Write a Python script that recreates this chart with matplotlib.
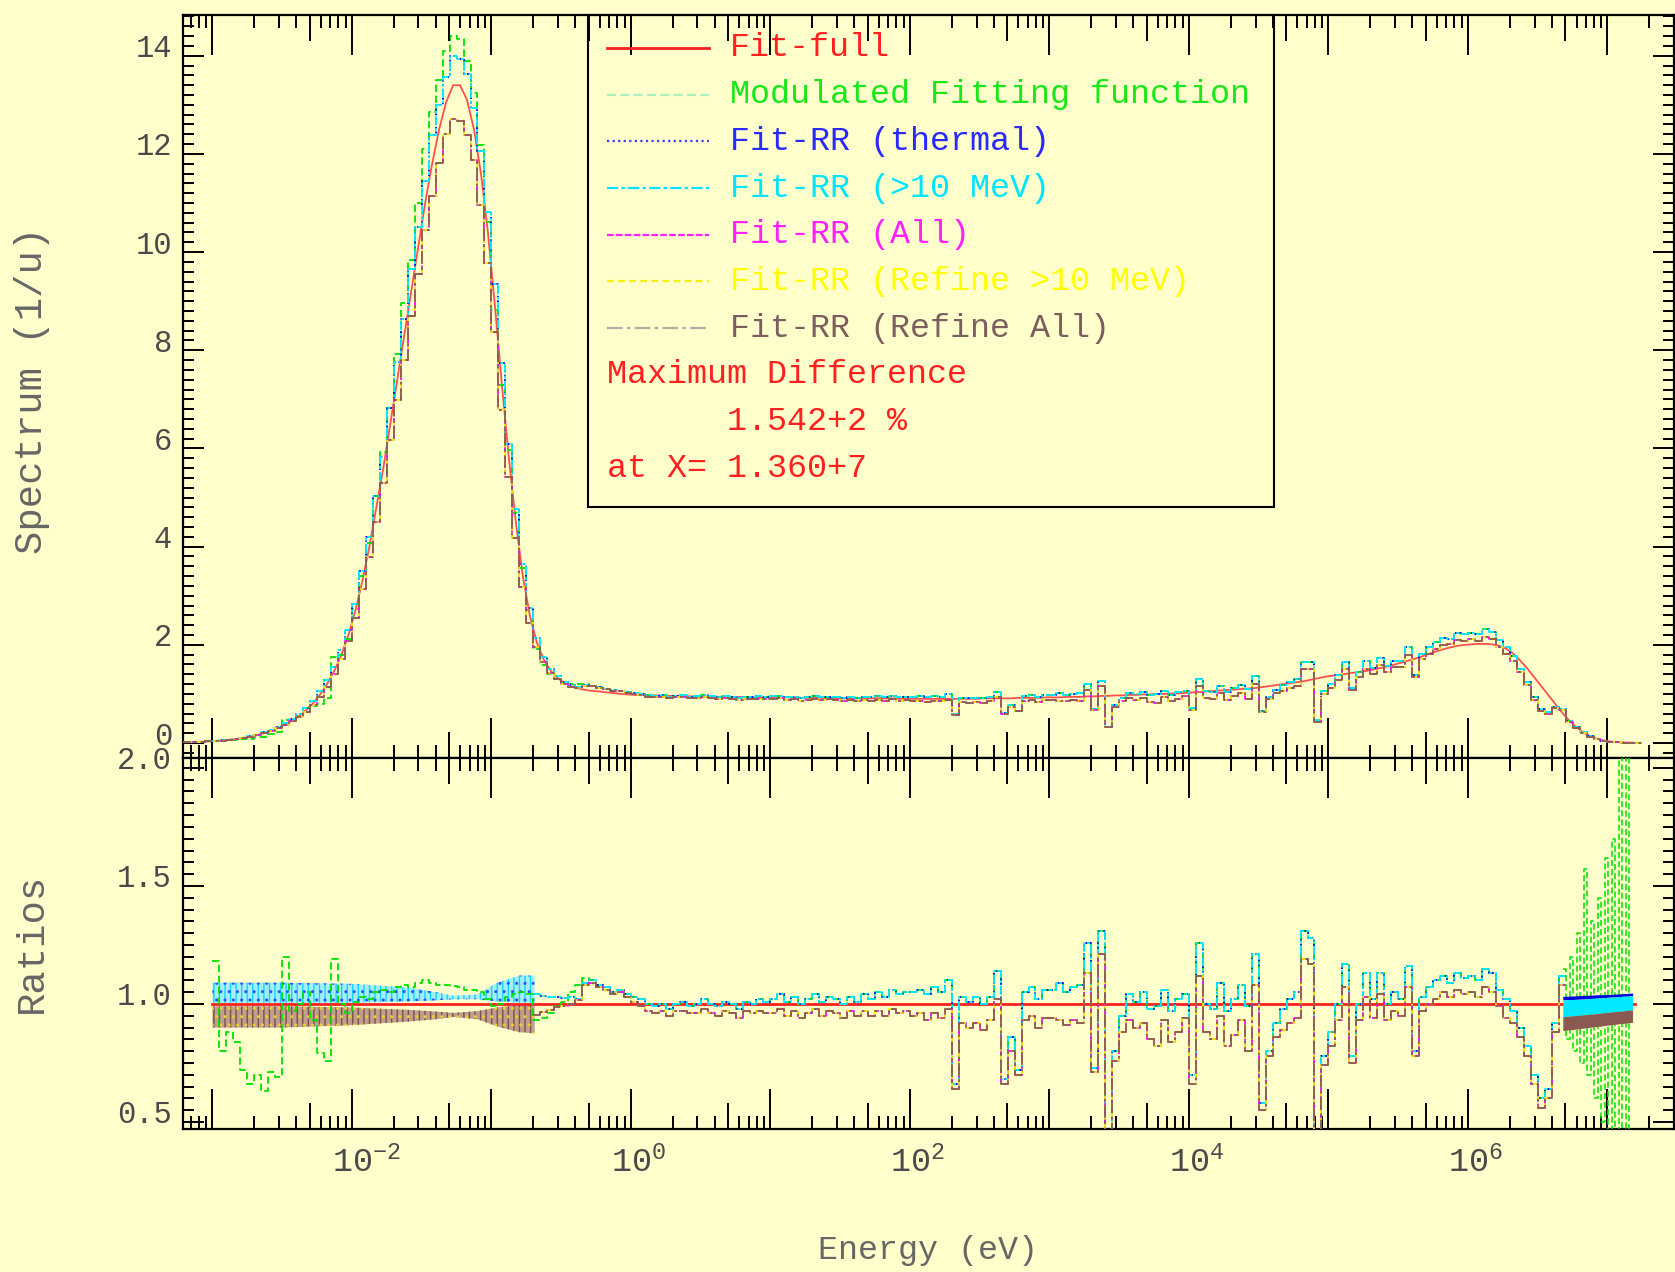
import numpy as np
import matplotlib.pyplot as plt
from matplotlib.patches import Rectangle
from matplotlib.ticker import (LogLocator, MultipleLocator, FuncFormatter,
                               FormatStrFormatter, NullLocator, NullFormatter)
from matplotlib.transforms import ScaledTranslation

plt.rcParams['font.family'] = ['Liberation Mono', 'DejaVu Sans Mono']
plt.rcParams['mathtext.fontset'] = 'custom'
plt.rcParams['mathtext.rm'] = 'Liberation Mono'
plt.rcParams['mathtext.it'] = 'Liberation Mono'
plt.rcParams['hatch.linewidth'] = 1.0

############   DATA   ####################################
# group structure: 20 groups per decade, first edge at 10^-3.25 eV
first_edge_log = -3.25
groups_per_decade = 20

# Fit-full spectrum (1/u), one value per group, one row per decade
fit_full = np.array([
    0.012, 0.016, 0.021, 0.027, 0.034,
    0.043, 0.054, 0.068, 0.085, 0.106, 0.132, 0.165, 0.205, 0.255, 0.315,
    0.385, 0.465, 0.56, 0.68, 0.82, 1.0, 1.22, 1.48, 1.8, 2.2,
    2.7, 3.3, 4.0, 4.8, 5.6, 6.5, 7.4, 8.3, 9.2, 10.1,
    11.0, 11.8, 12.5, 13.05, 13.4, 13.4, 13.1, 12.5, 11.6, 10.4,
    8.9, 7.3, 5.8, 4.5, 3.4, 2.6, 2.05, 1.7, 1.47, 1.32,
    1.22, 1.15, 1.11, 1.08, 1.06, 1.05, 1.03, 1.02, 1.0, 0.99,
    0.98, 0.98, 0.97, 0.97, 0.97, 0.96, 0.96, 0.96, 0.95, 0.95,
    0.95, 0.95, 0.94, 0.94, 0.94, 0.94, 0.93, 0.93, 0.93, 0.93,
    0.93, 0.93, 0.93, 0.92, 0.92, 0.92, 0.92, 0.92, 0.92, 0.91,
    0.91, 0.91, 0.91, 0.91, 0.91, 0.91, 0.91, 0.91, 0.90, 0.90,
    0.90, 0.90, 0.90, 0.90, 0.90, 0.90, 0.90, 0.90, 0.90, 0.90,
    0.91, 0.91, 0.91, 0.91, 0.91, 0.92, 0.92, 0.92, 0.92, 0.93,
    0.93, 0.93, 0.94, 0.94, 0.94, 0.95, 0.95, 0.96, 0.96, 0.97,
    0.97, 0.98, 0.98, 0.99, 0.99, 1.0, 1.0, 1.01, 1.01, 1.02,
    1.03, 1.04, 1.05, 1.06, 1.07, 1.08, 1.09, 1.10, 1.11, 1.12,
    1.14, 1.16, 1.18, 1.20, 1.22, 1.24, 1.26, 1.29, 1.32, 1.35,
    1.37, 1.39, 1.41, 1.43, 1.45, 1.47, 1.50, 1.53, 1.56, 1.60,
    1.64, 1.68, 1.72, 1.77, 1.82, 1.87, 1.91, 1.95, 1.98, 2.00,
    2.01, 2.02, 2.02, 2.01, 1.98, 1.92, 1.82, 1.68, 1.52, 1.34,
    1.16, 0.98, 0.80, 0.62, 0.46, 0.33, 0.22, 0.14, 0.085, 0.05,
    0.03, 0.018, 0.01, 0.006, 0.004,
])

# ratio to Fit-full of Fit-RR (thermal) / Fit-RR (>10 MeV)
ratio_rr_high = np.array([
    1.05, 1.05, 1.05, 1.05, 1.05,
    1.05, 1.06, 1.04, 1.05, 1.06, 1.05, 1.04, 1.06, 1.05, 1.05,
    1.04, 1.06, 1.05, 1.04, 1.05, 1.06, 1.05, 1.04, 1.05, 1.05,
    1.05, 1.06, 1.05, 1.05, 1.04, 1.05, 1.05, 1.04, 1.05, 1.04,
    1.04, 1.05, 1.04, 1.04, 1.045, 1.04, 1.04, 1.035, 1.04, 1.04,
    1.05, 1.06, 1.05, 1.06, 1.07, 1.06, 1.04, 1.035, 1.03, 1.03,
    1.025, 1.03, 1.02, 1.09, 1.10, 1.08, 1.07, 1.05, 1.06, 1.04,
    1.03, 1.02, 1.0, 0.99, 1.0, 0.98, 1.0, 1.01, 0.99, 1.0,
    1.02, 1.0, 0.99, 1.01, 1.0, 0.98, 1.01, 1.0, 1.02, 1.01,
    1.02, 1.04, 1.01, 1.03, 1.0, 1.02, 1.04, 1.01, 1.03, 1.02,
    1.0, 1.03, 1.01, 1.04, 1.02, 1.05, 1.03, 1.06, 1.04, 1.05,
    1.05, 1.06, 1.04, 1.07, 1.05, 1.10, 0.66, 1.03, 1.01, 1.03,
    1.0, 1.03, 1.14, 0.68, 0.86, 0.72, 1.05, 1.07, 1.02, 1.06,
    1.06, 1.09, 1.05, 1.07, 1.08, 1.26, 0.73, 1.31, 0.35, 0.80,
    0.95, 1.04, 1.01, 1.05, 0.98, 0.99, 1.06, 0.97, 1.02, 1.04,
    0.70, 1.26, 1.0, 0.98, 1.09, 0.97, 1.02, 1.08, 0.99, 1.21,
    0.58, 0.80, 0.92, 0.98, 1.02, 1.05, 1.31, 1.28, 0.35, 0.78,
    0.88, 1.0, 1.17, 0.78, 1.0, 1.13, 1.02, 1.13, 1.0, 1.05,
    1.02, 1.16, 0.80, 1.03, 1.07, 1.10, 1.12, 1.09, 1.13, 1.11,
    1.12, 1.10, 1.15, 1.13, 1.06, 1.02, 0.97, 0.90, 0.82, 0.70,
    0.60, 0.64, 0.92, 1.12, 0.99, 0.99, 0.99, 0.995, 1.0, 1.0,
    1.005, 1.01, 1.01, 1.015, 1.0,
])

# ratio to Fit-full of Fit-RR (All) / (Refine >10 MeV) / (Refine All)
ratio_rr_low = np.array([
    0.945, 0.945, 0.945, 0.945, 0.945,
    0.945, 0.95, 0.94, 0.945, 0.95, 0.94, 0.945, 0.95, 0.945, 0.94,
    0.945, 0.95, 0.945, 0.94, 0.95, 0.945, 0.94, 0.945, 0.95, 0.945,
    0.945, 0.95, 0.945, 0.94, 0.945, 0.95, 0.945, 0.94, 0.945, 0.945,
    0.95, 0.945, 0.945, 0.95, 0.948, 0.945, 0.945, 0.95, 0.945, 0.94,
    0.94, 0.93, 0.935, 0.93, 0.935, 0.94, 0.955, 0.965, 0.975, 0.985,
    0.99, 1.0, 1.015, 1.08, 1.09, 1.07, 1.06, 1.04, 1.05, 1.03,
    1.01, 0.99, 0.97, 0.96, 0.97, 0.95, 0.97, 0.97, 0.96, 0.96,
    0.98, 0.96, 0.95, 0.97, 0.96, 0.94, 0.97, 0.96, 0.97, 0.96,
    0.96, 0.98, 0.95, 0.97, 0.94, 0.96, 0.98, 0.95, 0.97, 0.96,
    0.94, 0.97, 0.95, 0.97, 0.95, 0.97, 0.95, 0.98, 0.96, 0.97,
    0.95, 0.96, 0.93, 0.96, 0.94, 0.98, 0.64, 0.92, 0.90, 0.92,
    0.89, 0.93, 1.02, 0.66, 0.80, 0.70, 0.93, 0.95, 0.90, 0.94,
    0.94, 0.93, 0.91, 0.93, 0.92, 1.13, 0.71, 1.21, 0.33, 0.76,
    0.88, 0.93, 0.90, 0.92, 0.85, 0.82, 0.93, 0.84, 0.88, 0.94,
    0.66, 1.12, 0.88, 0.85, 0.95, 0.82, 0.87, 0.93, 0.80, 1.08,
    0.55, 0.78, 0.86, 0.89, 0.92, 0.94, 1.19, 1.17, 0.33, 0.74,
    0.82, 0.93, 1.07, 0.75, 0.93, 1.03, 0.94, 1.04, 0.93, 0.97,
    0.95, 1.07, 0.78, 0.97, 1.0, 1.02, 1.05, 1.03, 1.06, 1.04,
    1.05, 1.03, 1.07, 1.05, 0.99, 0.94, 0.92, 0.86, 0.78, 0.66,
    0.56, 0.60, 0.88, 1.08, 0.92, 0.92, 0.925, 0.93, 0.935, 0.94,
    0.945, 0.95, 0.955, 0.96, 0.96,
])

# Modulated Fitting function ratio below 1 eV; above it follows Fit-RR (thermal)
ratio_modulated_low_e = np.array([
    1.0, 1.0, 1.0, 1.0, 1.0,
    1.18, 0.80, 0.88, 0.84, 0.72, 0.66, 0.70, 0.63, 0.71, 0.69,
    1.20, 0.97, 1.0, 1.05, 0.93, 0.79, 0.76, 1.19, 1.0, 0.96,
    1.01, 1.03, 1.02, 1.05, 1.06, 1.05, 1.07, 1.08, 1.07, 1.09,
    1.10, 1.09, 1.08, 1.08, 1.075, 1.07, 1.06, 1.06, 1.05, 1.02,
    0.99, 1.0, 1.03, 1.04, 1.05, 1.04, 0.93, 0.94, 0.96, 0.99,
    1.01, 1.05, 1.08, 1.11, 1.10, 1.08, 1.07, 1.05, 1.06, 1.04,
])
ratio_modulated = np.concatenate([ratio_modulated_low_e,
                                  ratio_rr_high[len(ratio_modulated_low_e):]])

# Modulated Fitting function ratio above 4.8 MeV (finer groups, 40 per decade)
tail_first_edge_log = 6.68
tail_groups_per_decade = 40
ratio_modulated_tail = np.array([
    1.15, 0.85, 1.2, 0.8, 1.3, 0.75, 1.57, 0.7, 1.35, 0.6,
    1.45, 0.5, 1.62, 0.4, 1.7, 0.35, 2.1, 0.3, 2.3, 0.4,
])

# envelopes of the rapidly oscillating ratios (thermal range)
band_thermal_log_e = [-3.0, -2.5, -2.0, -1.6, -1.4, -1.27, -1.1, -0.96, -0.8, -0.69]
band_thermal_high_top = [1.09, 1.09, 1.085, 1.07, 1.05, 1.035, 1.04, 1.09, 1.12, 1.12]
band_thermal_high_bot = [1.005, 1.005, 1.005, 1.01, 1.015, 1.02, 1.02, 1.01, 1.005, 1.005]
band_thermal_low_top = [0.99, 0.99, 0.985, 0.975, 0.968, 0.962, 0.97, 0.985, 0.995, 0.995]
band_thermal_low_bot = [0.90, 0.90, 0.91, 0.925, 0.935, 0.945, 0.935, 0.905, 0.88, 0.875]

# envelopes above 4.8 MeV
band_tail_log_e = [6.68, 6.8, 6.9, 7.0, 7.1, 7.18]
band_tail_blue_top = [1.032, 1.035, 1.038, 1.040, 1.043, 1.046]
band_tail_cyan_top = [1.017, 1.02, 1.024, 1.028, 1.032, 1.035]
band_tail_cyan_bot = [0.946, 0.952, 0.958, 0.964, 0.970, 0.975]
band_tail_brown_bot = [0.887, 0.895, 0.903, 0.910, 0.917, 0.922]

max_diff_text = ["Maximum Difference", "      1.542+2 %", "at X= 1.360+7"]

############   STYLE   #############
BG = '#ffffcc'
series = [
    # label, ratio, line colour, dashes, legend text colour, legend sample colour
    ("Modulated Fitting function", ratio_modulated, "#00e000", (0, (4, 2)), "#18e818", "#a8f0c0"),
    ("Fit-RR (thermal)", ratio_rr_high, "#0000ff", (0, (1, 1.5)), "#2828ff", "#3a3aff"),
    ("Fit-RR (>10 MeV)", ratio_rr_high, "#00eeff", (0, (5, 1.5, 1.5, 1.5)), "#00e4ff", "#00e4ff"),
    ("Fit-RR (All)", ratio_rr_low, "#ff00ff", (0, (3, 1)), "#ff20ff", "#ff20ff"),
    ("Fit-RR (Refine >10 MeV)", ratio_rr_low, "#f0f000", (0, (3, 2)), "#ffff00", "#f4f000"),
    ("Fit-RR (Refine All)", ratio_rr_low, "#8c5a52", (0, (7, 2, 1.5, 2)), "#7c5e5e", "#b8a8a8"),
]
red = '#ff2020'

n_groups = len(fit_full)
edges = 10 ** (first_edge_log + np.arange(n_groups + 1) / groups_per_decade)
centers = np.sqrt(edges[:-1] * edges[1:])
centers_log = np.log10(centers)
tail_edges = 10 ** (tail_first_edge_log
                    + np.arange(len(ratio_modulated_tail) + 1) / tail_groups_per_decade)


def steps(vals, mask=None):
    v = np.array(vals, dtype=float)
    if mask is not None:
        v = np.where(mask, v, np.nan)
    return np.append(v, v[-1])


fig = plt.figure(figsize=(16.75, 12.72), dpi=100, facecolor=BG)
ax1 = fig.add_axes([0.10925, 0.40448, 0.89015, 0.58373], facecolor=BG)
ax2 = fig.add_axes([0.10925, 0.11203, 0.89015, 0.29245], facecolor=BG, sharex=ax1)

xlim = (10 ** -3.211, 10 ** 7.477)

#--- spectra ---
ax1.plot(centers, fit_full, color='#ff5050', lw=1.3, zorder=2)
for label, ratio, col, dash, tcol, scol in series:
    ax1.step(edges, steps(fit_full * ratio), where='post', color=col,
             ls=dash, lw=1.3, zorder=3)

#--- ratios ---
mid = (centers_log > -0.7) & (centers_log < 6.7)
low_e = (centers_log > -3.0) & (centers_log < 6.7)
full_rng = (centers_log > -3.0) & (centers_log < 7.2)

ax2.step(edges, steps(fit_full / fit_full, full_rng), where='post', color=red, lw=2.0, zorder=3.5)
for label, ratio, col, dash, tcol, scol in series:
    msk = low_e if ratio is ratio_modulated else mid
    ax2.step(edges, steps(ratio, msk), where='post', color=col, ls=dash, lw=1.3, zorder=4)

# thermal range: dense oscillations drawn as textured envelopes
e_th = 10 ** np.array(band_thermal_log_e)
ax2.fill_between(e_th, band_thermal_high_bot, band_thermal_high_top, facecolor='#a6eef6',
                 edgecolor='#10d4ff', hatch='|||', linewidth=0, zorder=3)
ax2.fill_between(e_th, band_thermal_high_bot, band_thermal_high_top, facecolor='none',
                 edgecolor='#3050ff', hatch='..', linewidth=0, zorder=3.1)
ax2.fill_between(e_th, band_thermal_low_bot, band_thermal_low_top, facecolor='#c0a08c',
                 edgecolor='#7e4e4a', hatch='|||', linewidth=0, zorder=3)
ax2.fill_between(e_th, band_thermal_low_bot, band_thermal_low_top, facecolor='none',
                 edgecolor='#e8d030', hatch='..', linewidth=0, zorder=3.1)

ax2.step(tail_edges, steps(ratio_modulated_tail), where='post', color='#00e000',
         ls=(0, (4, 2)), lw=1.1, zorder=5)
e_tl = 10 ** np.array(band_tail_log_e)
ax2.fill_between(e_tl, band_tail_cyan_top, band_tail_blue_top, color='#0000e0', lw=0, zorder=6)
ax2.fill_between(e_tl, band_tail_cyan_bot, band_tail_cyan_top, color='#00e8ff', lw=0, zorder=6)
ax2.fill_between(e_tl, band_tail_brown_bot, band_tail_cyan_bot, color='#8a5a52', lw=0, zorder=6)

#--- axes ---
ax1.set_ylim(-0.295, 14.83)
ax2.set_ylim(0.468, 2.044)
ax1.set_xscale('log')
ax1.set_xlim(xlim)

tick_col = '#4a4a4a'
for ax in (ax1, ax2):
    tw = ax.twiny()
    tw.set_xscale('log')
    tw.set_xlim(xlim)
    tw.xaxis.set_major_locator(LogLocator(base=10, subs=(5.0,), numticks=40))
    tw.xaxis.set_minor_locator(NullLocator())
    tw.xaxis.set_major_formatter(NullFormatter())
    tw.tick_params(axis='x', which='major', direction='in', length=19, width=1.4,
                   top=True, bottom=True, labeltop=False, labelbottom=False)
    for sp in tw.spines.values():
        sp.set_visible(False)

    ax.xaxis.set_major_locator(LogLocator(base=10, numticks=40))
    ax.xaxis.set_minor_locator(LogLocator(base=10, subs=(2, 3, 4, 6, 7, 8, 9), numticks=40))
    ax.tick_params(axis='x', which='major', direction='in', length=29, width=1.4,
                   top=True, bottom=True)
    ax.tick_params(axis='x', which='minor', direction='in', length=9.5, width=1.4,
                   top=True, bottom=True)
    ax.tick_params(axis='y', which='major', direction='in', length=15, width=1.4,
                   left=True, right=True, labelsize=22, labelcolor=tick_col, pad=8)
    ax.tick_params(axis='y', which='minor', direction='in', length=8, width=1.4,
                   left=True, right=True)
    for sp in ax.spines.values():
        sp.set_linewidth(1.6)

ax1.yaxis.set_major_locator(MultipleLocator(2))
ax1.yaxis.set_minor_locator(MultipleLocator(0.2))
ax1.yaxis.set_major_formatter(FormatStrFormatter('%d'))
ax2.yaxis.set_major_locator(MultipleLocator(0.5))
ax2.yaxis.set_minor_locator(MultipleLocator(0.05))
ax2.yaxis.set_major_formatter(FormatStrFormatter('%.1f'))

ax1.tick_params(axis='x', labelbottom=False)


def decade_label(v, pos):
    e = int(round(np.log10(v)))
    return '' if e % 2 else r'$10^{%d}$' % e


ax2.xaxis.set_major_formatter(FuncFormatter(decade_label))
ax2.tick_params(axis='x', which='major', labelsize=24, labelcolor=tick_col, pad=12)
for t in ax2.xaxis.get_major_ticks():
    t.label1.set_horizontalalignment('left')
    t.label1.set_transform(t.label1.get_transform()
                           + ScaledTranslation(-0.20, 0, fig.dpi_scale_trans))
for ax in (ax1, ax2):
    for t in ax.yaxis.get_major_ticks():
        t.label1.set_transform(t.label1.get_transform()
                               + ScaledTranslation(0, 0.10, fig.dpi_scale_trans))

lab_col = '#666666'
ax1.set_ylabel('Spectrum (1/u)', fontsize=28, color=lab_col)
ax1.yaxis.set_label_coords(-0.1013, 0.495)
ax1.yaxis.label.set_va('center')
ax2.set_ylabel('Ratios', fontsize=28, color=lab_col)
ax2.yaxis.set_label_coords(-0.1013, 0.501)
ax2.yaxis.label.set_va('center')
ax2.set_xlabel('Energy (eV)', fontsize=24, color=lab_col)
ax2.xaxis.set_label_coords(0.5, -0.324)
ax2.xaxis.label.set_va('center')

#--- legend box ---
lx0, lx1, ly0 = 0.2713, 0.7317, 0.3374
ax1.add_patch(Rectangle((lx0, ly0), lx1 - lx0, 1 - ly0, transform=ax1.transAxes,
                        fill=False, ec='black', lw=1.5, zorder=10, clip_on=False))
rows = 0.9556 - 0.0629 * np.arange(10)
sx0, sx1, tx0 = 0.2846, 0.3530, 0.3671
ax1.plot([sx0, sx1], [rows[0], rows[0]], transform=ax1.transAxes, color=red, lw=2, zorder=10)
ax1.text(tx0, rows[0], 'Fit-full', transform=ax1.transAxes, color=red,
         fontsize=24, va='center', zorder=10)
for k, (label, ratio, col, dash, tcol, scol) in enumerate(series, start=1):
    ax1.plot([sx0, sx1], [rows[k], rows[k]], transform=ax1.transAxes, color=scol,
             ls=dash, lw=1.6, zorder=10)
    ax1.text(tx0, rows[k], label, transform=ax1.transAxes, color=tcol,
             fontsize=24, va='center', zorder=10)
for k, line in enumerate(max_diff_text, start=7):
    ax1.text(sx0, rows[k], line, transform=ax1.transAxes, color=red,
             fontsize=24, va='center', zorder=10)

fig.savefig('out.png', dpi=100, facecolor=BG)
